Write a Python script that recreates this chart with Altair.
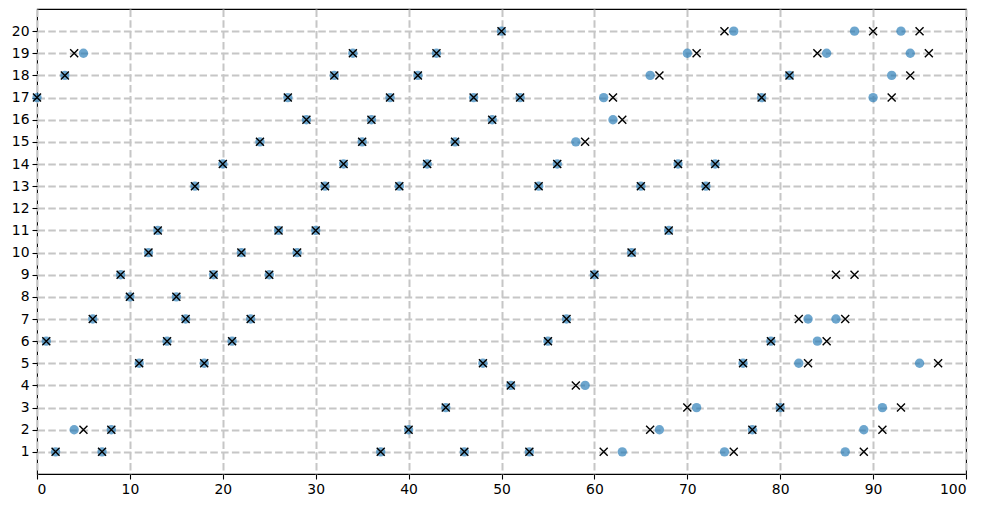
import altair as alt
import pandas as pd

# Blue circles: (x, row)
circle_rows = {
    1: [2, 7, 37, 46, 53, 63, 74, 87],
    2: [4, 8, 40, 67, 77, 89],
    3: [44, 71, 80, 91],
    4: [51, 59],
    5: [11, 18, 48, 76, 82, 95],
    6: [1, 14, 21, 55, 79, 84],
    7: [6, 16, 23, 57, 83, 86],
    8: [10, 15],
    9: [9, 19, 25, 60],
    10: [12, 22, 28, 64],
    11: [13, 26, 30, 68],
    13: [17, 31, 39, 54, 65, 72],
    14: [20, 33, 42, 56, 69, 73],
    15: [24, 35, 45, 58],
    16: [29, 36, 49, 62],
    17: [0, 27, 38, 47, 52, 61, 78, 90],
    18: [3, 32, 41, 66, 81, 92],
    19: [5, 34, 43, 70, 85, 94],
    20: [50, 75, 88, 93],
}

# Black x markers: (x, row)
cross_rows = {
    1: [2, 7, 37, 46, 53, 61, 75, 89],
    2: [5, 8, 40, 66, 77, 91],
    3: [44, 70, 80, 93],
    4: [51, 58],
    5: [11, 18, 48, 76, 83, 97],
    6: [1, 14, 21, 55, 79, 85],
    7: [6, 16, 23, 57, 82, 87],
    8: [10, 15],
    9: [9, 19, 25, 60, 86, 88],
    10: [12, 22, 28, 64],
    11: [13, 26, 30, 68],
    13: [17, 31, 39, 54, 65, 72],
    14: [20, 33, 42, 56, 69, 73],
    15: [24, 35, 45, 59],
    16: [29, 36, 49, 63],
    17: [0, 27, 38, 47, 52, 62, 78, 92],
    18: [3, 32, 41, 67, 81, 94],
    19: [4, 34, 43, 71, 84, 96],
    20: [50, 74, 90, 95],
}

x_ticks = list(range(0, 101, 10))
y_ticks = list(range(1, 21))

circles = pd.DataFrame(
    [{"x": x, "y": r} for r, xs in circle_rows.items() for x in xs]
)
crosses = pd.DataFrame(
    [{"x": x, "y": r} for r, xs in cross_rows.items() for x in xs]
)

xenc = alt.X("x:Q", scale=alt.Scale(domain=[0, 100], nice=False, zero=False),
             axis=alt.Axis(values=x_ticks, title=None))
yenc = alt.Y("y:Q", scale=alt.Scale(domain=[0, 21], nice=False, zero=False),
             axis=alt.Axis(values=y_ticks, title=None))

c1 = alt.Chart(circles).mark_circle(size=88, color="#1f77b4", opacity=0.65).encode(x=xenc, y=yenc)
c2 = alt.Chart(crosses).mark_point(
    shape="M-1,-1L1,1M1,-1L-1,1", filled=False, stroke="black", strokeWidth=1.4,
    size=64, opacity=1
).encode(x=xenc, y=yenc)

chart = alt.layer(c1, c2).properties(
    width=929, height=465,
    padding={"left": 29, "top": 1, "right": 12, "bottom": 22},
    autosize=alt.AutoSizeParams(type="none"),
).configure_view(
    stroke="black", strokeWidth=1.1
).configure_axis(
    domain=False,
    ticks=True, tickColor="black", tickSize=5, tickWidth=1.1,
    labelFont="DejaVu Sans", labelFontSize=13.9, labelColor="black", labelPadding=3,
    grid=True, gridColor="#c6c6c6", gridWidth=2, gridDash=[7.5, 3.3], gridOpacity=1,
)

chart.save("out.html", embed_options={"renderer": "svg", "actions": False})
